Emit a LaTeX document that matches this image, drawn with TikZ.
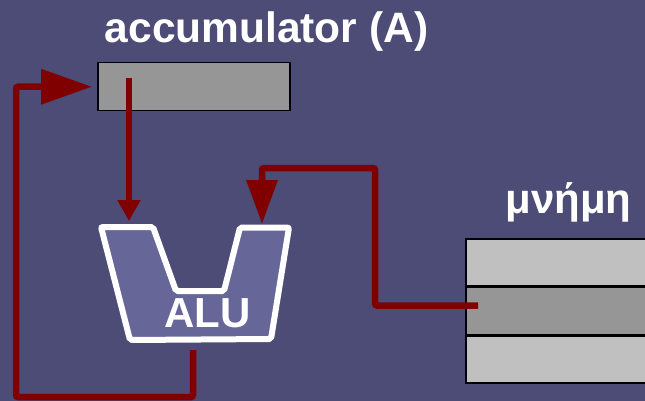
\documentclass[tikz,border=0pt]{standalone}
\usepackage{fontspec}
\setmainfont{Liberation Sans}
\usepackage{xcolor}
\definecolor{slideBg}{HTML}{4C4C76}
\definecolor{aluFill}{HTML}{666699}
\definecolor{busRed}{HTML}{800000}
\definecolor{regGray}{HTML}{969696}
\definecolor{cellGray}{HTML}{C0C0C0}
\usepackage{tikz}
\usetikzlibrary{
    arrows.meta,
    positioning,
    calc
}
\tikzset{
    % Title text above the boxes
    title text/.style={
        font=\bfseries\fontsize{42.5}{46}\selectfont,
        text=white,
        anchor=base,
        inner sep=0pt,
    },
    % Accumulator register
    register/.style={
        draw=black,
        line width=1.5pt,
        fill=regGray,
        minimum width=192pt,
        minimum height=48pt,
        inner sep=0pt,
        anchor=north west,
    },
    % Memory cells
    mem cell/.style={
        draw=black,
        line width=1.5pt,
        fill=cellGray,
        minimum width=185pt,
        minimum height=47pt,
        inner sep=0pt,
    },
    % ALU outline
    alu body/.style={
        draw=white,
        line width=6pt,
        fill=aluFill,
        rounded corners=2pt,
    },
    % Data bus
    bus/.style={
        draw=busRed,
        line width=6.5pt,
        rounded corners=2pt,
    },
}

\begin{document}
\begin{tikzpicture}[x=1pt, y=-1pt]
    \useasboundingbox (0,0) rectangle (645,401);
    \fill[slideBg] (0,0) rectangle (645,401);

    \node (accTitle) [title text] at (266.5,43) {accumulator (A)};
    \node (memTitle) [title text, font=\bfseries\fontsize{42}{46}\selectfont] at (568.5,213) {μνήμη};

    \node (acc) [register] at (97,62) {};
    \node (mem1) [mem cell, anchor=north west] at (465,238) {};
    \node (mem2) [mem cell, fill=regGray, below=0pt of mem1] {};
    \node (mem3) [mem cell, below=0pt of mem2] {};

    % ALU
    \draw[alu body] (101,227) -- (153,227) -- (176,291) -- (224,291)
        -- (240,227.5) -- (289,227.5) -- (271,339) -- (130,340) -- cycle;
    \node (aluText) [title text, font=\bfseries\fontsize{42}{46}\selectfont] at (207.5,327) {ALU};

    \coordinate (accOut) at ($(acc.north west)+(32,16)$);
    \coordinate (accIn) at ($(acc.west)+(-5,0)$);
    \coordinate (aluInA) at (129,221);
    \coordinate (aluInB) at (262,224);
    \coordinate (aluOut) at (193,350);
    \coordinate (memOut) at ($(mem2.north west)+(13,19)$);

    \draw[bus, -{Triangle[length=21pt, width=22pt]}] (accOut) -- (aluInA);
    \draw[bus, -{Triangle[length=44pt, width=30pt]}] (memOut) -| ($(aluInB)+(113,-56)$) -| (aluInB);
    \draw[bus, -{Triangle[length=51pt, width=34pt]}] (aluOut) -- ++(0,47) -- ++(-177,0) |- (accIn);
\end{tikzpicture}
\end{document}
